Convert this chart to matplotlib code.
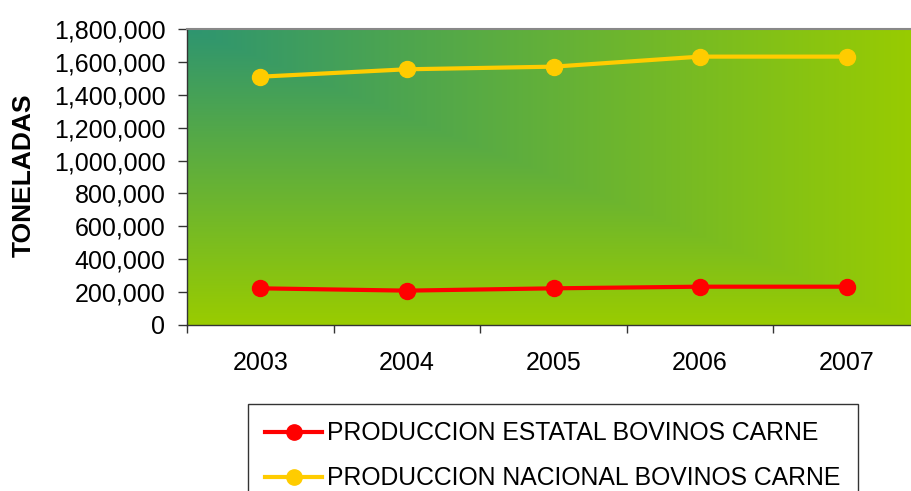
import matplotlib.pyplot as plt
import numpy as np
from matplotlib.colors import LinearSegmentedColormap
from matplotlib.ticker import FuncFormatter

plt.rcParams['font.family'] = ['Liberation Sans', 'DejaVu Sans']

# datos
anios = ['2003', '2004', '2005', '2006', '2007']
estatal = [223000, 209000, 223000, 233000, 233000]
nacional = [1510000, 1555000, 1571000, 1632000, 1632000]
etiqueta_estatal = 'PRODUCCION ESTATAL BOVINOS CARNE'
etiqueta_nacional = 'PRODUCCION NACIONAL BOVINOS CARNE'

W, H = 912, 491
fig = plt.figure(figsize=(W / 100, H / 100), dpi=100)
# area de trazado: 187..920 px (se corta a la derecha), 29..325 px
ax = fig.add_axes([187 / W, (H - 325) / H, (920 - 187) / W, (325 - 29) / H])
ax.patch.set_alpha(0)

# fondo degradado desde la esquina superior izquierda
u = np.linspace(0, 1, 400)
v = np.linspace(0, 1, 200)
U, V = np.meshgrid(u, v)
t = np.maximum(U, V)
cmap = LinearSegmentedColormap.from_list('fondo', ['#2E9570', '#99CC00'])
ax.imshow(t, cmap=cmap, extent=[0, 1, 0, 1], transform=ax.transAxes,
          aspect='auto', origin='upper', zorder=0, interpolation='bilinear')

x = np.arange(len(anios))
ax.plot(x, estatal, color='#FF0000', lw=3, marker='o', ms=11.5,
        label=etiqueta_estatal, zorder=3, clip_on=False)
ax.plot(x, nacional, color='#FFCC00', lw=3, marker='o', ms=11.5,
        label=etiqueta_nacional, zorder=3, clip_on=False)

ax.set_xlim(-0.5, len(anios) - 0.5)
ax.set_ylim(0, 1800000)
ax.set_yticks(np.arange(0, 1800001, 200000))
ax.yaxis.set_major_formatter(FuncFormatter(lambda val, pos: f'{int(val):,}'))
ax.tick_params(axis='y', direction='out', length=6.5, width=1, color='#333333',
               labelsize=18, pad=9)

ax.set_xticks(x)
ax.set_xticklabels(anios, fontsize=18)
ax.set_xticks(np.arange(-0.5, len(anios), 1), minor=True)
ax.tick_params(axis='x', which='major', length=0, pad=19)
ax.tick_params(axis='x', which='minor', direction='out', length=6, width=1,
               color='#333333')

for s in ['left', 'bottom']:
    ax.spines[s].set_color('#333333')
    ax.spines[s].set_linewidth(1)
ax.spines['top'].set_color('#888888')
ax.spines['top'].set_linewidth(1.5)
ax.spines['right'].set_visible(False)

fig.text(24 / W, 1 - 175 / H, 'TONELADAS', rotation=90, fontsize=19,
         fontweight='bold', ha='center', va='center')

leg = fig.legend(loc='upper left', bbox_to_anchor=(248 / W, 1 - 409 / H, 610 / W, 0.01),
                 mode='expand', fontsize=17.8, frameon=True, fancybox=False,
                 edgecolor='black', borderpad=0.7, handlelength=2.3,
                 handletextpad=0.2, labelspacing=0.85, borderaxespad=0)
leg.get_frame().set_linewidth(1)
for h in leg.legend_handles:
    h.set_markersize(11)

fig.savefig('out.png', dpi=100)
